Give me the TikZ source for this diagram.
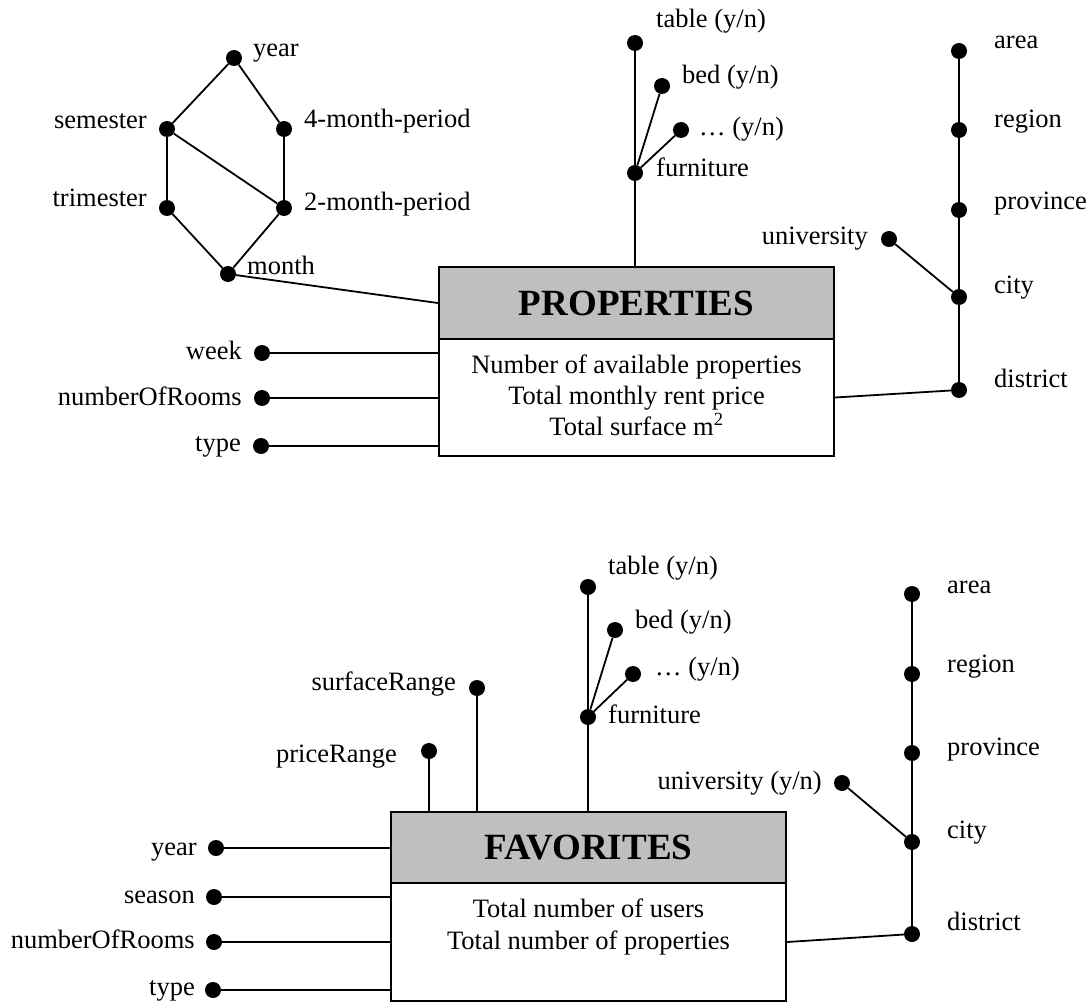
\documentclass[tikz,border=0pt]{standalone}
\usepackage{fontspec}
\setmainfont{Liberation Serif}
\begin{document}
\begin{tikzpicture}[x=1pt,y=-1pt,
  dotnode/.style={circle,fill=black,inner sep=0pt,minimum size=16pt},
  lbl/.style={inner sep=0pt,font=\fontsize{26.5}{31}\selectfont},
  lblL/.style={lbl,anchor=base west},
  lblR/.style={lbl,anchor=base east},
  conn/.style={line width=1.8pt},
  hdr/.style={draw,line width=2.4pt,fill=black!25,inner sep=0pt,font=\fontsize{37}{40}\selectfont\bfseries},
  bodybox/.style={draw,line width=2.4pt,fill=white,inner sep=0pt},
  bodytxt/.style={lbl,anchor=base}]
\useasboundingbox (0,0) rectangle (1090,1003);

% ================= PROPERTIES =================
\node[bodybox,minimum width=395pt,minimum height=117pt] (propB) at (636.5,397.5) {};
\node[hdr,minimum width=395pt,minimum height=72pt] (propH) at (636.5,303) {PROPERTIES};
\node[bodytxt] (p1) at (636.5,373) {Number of available properties};
\node[bodytxt] (p2) at (636.5,404) {Total monthly rent price};
\node[bodytxt] (p3) at (636.5,435) {Total surface m\textsuperscript{2}};

% time hierarchy
\node[dotnode] (tYear) at (234,58) {};
\node[dotnode] (tSem) at (167,129) {};
\node[dotnode] (t4m) at (284,129) {};
\node[dotnode] (tTri) at (167,208) {};
\node[dotnode] (t2m) at (284,208) {};
\node[dotnode] (tMonth) at (228,274) {};
\node[lblL] (ltYear) at (253,57) {year};
\node[lblR] (ltSem) at (147,129) {semester};
\node[lblL] (lt4m) at (304,128) {4-month-period};
\node[lblR] (ltTri) at (147,207) {trimester};
\node[lblL] (lt2m) at (304,211) {2-month-period};
\node[lblL] (ltMonth) at (247,274) {month};
\draw[conn] (tYear) -- (tSem);
\draw[conn] (tYear) -- (t4m);
\draw[conn] (tSem) -- (tTri);
\draw[conn] (tSem) -- (t2m);
\draw[conn] (t4m) -- (t2m);
\draw[conn] (tTri) -- (tMonth);
\draw[conn] (t2m) -- (tMonth);
\draw[conn] (tMonth) -- (propH.west);

% furniture
\node[dotnode] (fTable) at (635,43) {};
\node[dotnode] (fBed) at (662,86) {};
\node[dotnode] (fEtc) at (681,130) {};
\node[dotnode] (fFurn) at (635,173) {};
\node[lblL] (lfTable) at (656,28) {table (y/n)};
\node[lblL] (lfBed) at (682,84) {bed (y/n)};
\node[lblL] (lfEtc) at (699,136) {… (y/n)};
\node[lblL] (lfFurn) at (656,177) {furniture};
\draw[conn] (fTable) -- (fFurn);
\draw[conn] (fBed) -- (fFurn);
\draw[conn] (fEtc) -- (fFurn);
\draw[conn] (fFurn) -- (fFurn |- propH.north);

% geography
\node[dotnode] (gArea) at (959,51) {};
\node[dotnode] (gRegion) at (959,130) {};
\node[dotnode] (gProv) at (959,210) {};
\node[dotnode] (gCity) at (959,297) {};
\node[dotnode] (gDist) at (959,390) {};
\node[dotnode] (gUni) at (889,239) {};
\node[lblL] (lgArea) at (994,49) {area};
\node[lblL] (lgRegion) at (994,128) {region};
\node[lblL] (lgProv) at (994,210) {province};
\node[lblL] (lgCity) at (994,294) {city};
\node[lblL] (lgDist) at (994,387) {district};
\node[lblR] (lgUni) at (868,245) {university};
\draw[conn] (gArea) -- (gRegion) -- (gProv) -- (gCity) -- (gDist);
\draw[conn] (gUni) -- (gCity);
\draw[conn] (gDist) -- (propB.east);

% left attributes
\node[dotnode] (aWeek) at (262,353) {};
\node[dotnode] (aRooms) at (262,398) {};
\node[dotnode] (aType) at (261,446) {};
\node[lblR] (laWeek) at (242,359) {week};
\node[lblR] (laRooms) at (242,405) {numberOfRooms};
\node[lblR] (laType) at (241,451) {type};
\draw[conn] (aWeek) -- (aWeek -| propB.west);
\draw[conn] (aRooms) -- (aRooms -| propB.west);
\draw[conn] (aType) -- (aType -| propB.west);

% ================= FAVORITES =================
\node[bodybox,minimum width=395pt,minimum height=118pt] (favB) at (588.5,942) {};
\node[hdr,minimum width=395pt,minimum height=71pt] (favH) at (588.5,847.5) {FAVORITES};
\node[bodytxt] (q1) at (588.5,917) {Total number of users};
\node[bodytxt] (q2) at (588.5,949) {Total number of properties};

% ranges
\node[dotnode] (rPrice) at (429,751) {};
\node[dotnode] (rSurf) at (477,688) {};
\node[lblR] (lrPrice) at (397,762) {priceRange};
\node[lblR] (lrSurf) at (456,690) {surfaceRange};
\draw[conn] (rPrice) -- (rPrice |- favH.north);
\draw[conn] (rSurf) -- (rSurf |- favH.north);

% furniture
\node[dotnode] (hTable) at (588,587) {};
\node[dotnode] (hBed) at (615,630) {};
\node[dotnode] (hEtc) at (633,674) {};
\node[dotnode] (hFurn) at (588,717) {};
\node[lblL] (lhTable) at (608,574) {table (y/n)};
\node[lblL] (lhBed) at (635,628) {bed (y/n)};
\node[lblL] (lhEtc) at (655,675) {… (y/n)};
\node[lblL] (lhFurn) at (608,723) {furniture};
\draw[conn] (hTable) -- (hFurn);
\draw[conn] (hBed) -- (hFurn);
\draw[conn] (hEtc) -- (hFurn);
\draw[conn] (hFurn) -- (hFurn |- favH.north);

% geography
\node[dotnode] (kArea) at (912,594) {};
\node[dotnode] (kRegion) at (912,674) {};
\node[dotnode] (kProv) at (912,753) {};
\node[dotnode] (kCity) at (912,842) {};
\node[dotnode] (kDist) at (912,934) {};
\node[dotnode] (kUni) at (842,783) {};
\node[lblL] (lkArea) at (947,593) {area};
\node[lblL] (lkRegion) at (947,672) {region};
\node[lblL] (lkProv) at (947,755) {province};
\node[lblL] (lkCity) at (947,838) {city};
\node[lblL] (lkDist) at (947,930) {district};
\node[lblR] (lkUni) at (822,789) {university (y/n)};
\draw[conn] (kArea) -- (kRegion) -- (kProv) -- (kCity) -- (kDist);
\draw[conn] (kUni) -- (kCity);
\draw[conn] (kDist) -- (favB.east);

% left attributes
\node[dotnode] (bYear) at (216,848) {};
\node[dotnode] (bSeason) at (214,897) {};
\node[dotnode] (bRooms) at (214,942) {};
\node[dotnode] (bType) at (213,990) {};
\node[lblR] (lbYear) at (197,855) {year};
\node[lblR] (lbSeason) at (195,903) {season};
\node[lblR] (lbRooms) at (195,948) {numberOfRooms};
\node[lblR] (lbType) at (195,995) {type};
\draw[conn] (bYear) -- (bYear -| favB.west);
\draw[conn] (bSeason) -- (bSeason -| favB.west);
\draw[conn] (bRooms) -- (bRooms -| favB.west);
\draw[conn] (bType) -- (bType -| favB.west);
\end{tikzpicture}
\end{document}
